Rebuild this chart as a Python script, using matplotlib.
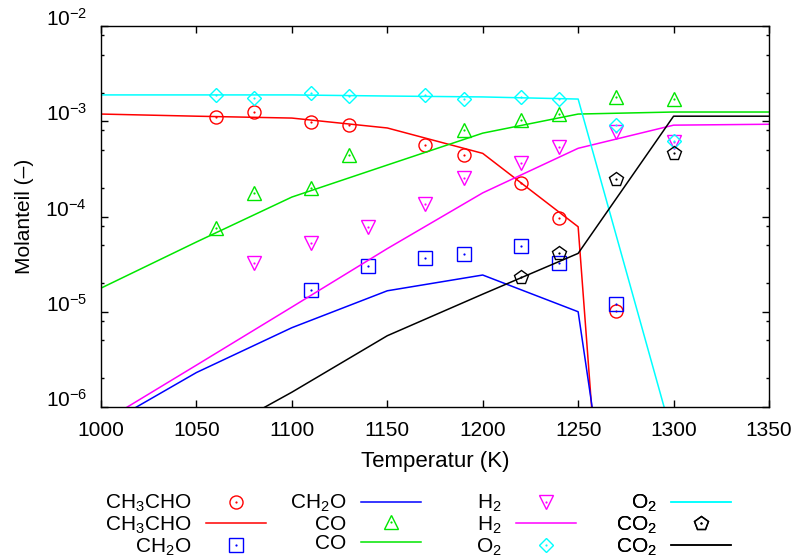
import numpy as np
import matplotlib
matplotlib.use("Agg")
import matplotlib.pyplot as plt
from matplotlib.ticker import LogLocator, NullFormatter

plt.rcParams['font.family'] = ['Liberation Sans', 'DejaVu Sans']
plt.rcParams['mathtext.default'] = 'regular'
plt.rcParams['font.size'] = 15

# model results (lines) on a 50 K grid
T_model = [1000, 1050, 1100, 1150, 1200, 1250, 1300, 1350]
ch3cho_model = [1.19e-3, 1.13e-3, 1.08e-3, 8.5e-4, 4.6e-4, 7.8e-5, 3e-18, 3e-18]
ch2o_model = [6.1e-7, 2.3e-6, 6.8e-6, 1.66e-5, 2.43e-5, 1.0e-5, 1.5e-12, 1.5e-12]
co_model = [1.77e-5, 5.4e-5, 1.6e-4, 3.47e-4, 7.5e-4, 1.19e-3, 1.25e-3, 1.25e-3]
h2_model = [6.8e-7, 2.75e-6, 1.12e-5, 4.6e-5, 1.77e-4, 5.2e-4, 9.1e-4, 9.3e-4]
o2_model = [1.89e-3, 1.89e-3, 1.89e-3, 1.84e-3, 1.80e-3, 1.71e-3, 4.4e-7, 1e-9]
co2_model = [5e-8, 4e-7, 1.43e-6, 5.6e-6, 1.53e-5, 4.1e-5, 1.13e-3, 1.13e-3]

# measurements (symbols)
T_ch3cho = [1060, 1080, 1110, 1130, 1170, 1190, 1220, 1240, 1270]
ch3cho_exp = [1.11e-3, 1.25e-3, 9.8e-4, 9.1e-4, 5.6e-4, 4.4e-4, 2.25e-4, 9.6e-5, 1.02e-5]
T_ch2o = [1110, 1140, 1170, 1190, 1220, 1240, 1270]
ch2o_exp = [1.7e-5, 3.0e-5, 3.67e-5, 4.03e-5, 4.9e-5, 3.24e-5, 1.2e-5]
T_co = [1060, 1080, 1110, 1130, 1190, 1220, 1240, 1270, 1300]
co_exp = [7.6e-5, 1.77e-4, 2.0e-4, 4.4e-4, 8.1e-4, 1.03e-3, 1.19e-3, 1.8e-3, 1.71e-3]
T_h2 = [1080, 1110, 1140, 1170, 1190, 1220, 1240, 1270, 1300]
h2_exp = [3.25e-5, 5.3e-5, 7.8e-5, 1.35e-4, 2.53e-4, 3.65e-4, 5.4e-4, 7.7e-4, 6.05e-4]
T_o2 = [1060, 1080, 1110, 1130, 1170, 1190, 1220, 1240, 1270, 1300]
o2_exp = [1.88e-3, 1.75e-3, 1.99e-3, 1.84e-3, 1.89e-3, 1.71e-3, 1.80e-3, 1.71e-3, 9.1e-4, 6.2e-4]
T_co2 = [1220, 1240, 1270, 1300]
co2_exp = [2.3e-5, 4.1e-5, 2.48e-4, 4.6e-4]

species = [
    # label, color, marker, marker size, T_exp, exp, model
    ('CH$_3$CHO', '#ff0000', 'o', 9.4, T_ch3cho, ch3cho_exp, ch3cho_model),
    ('CH$_2$O', '#0000ff', 's', 9.6, T_ch2o, ch2o_exp, ch2o_model),
    ('CO', '#00e600', '^', 9.4, T_co, co_exp, co_model),
    ('H$_2$', '#ff00ff', 'v', 9.4, T_h2, h2_exp, h2_model),
    ('O$_2$', '#00ffff', 'D', 7.0, T_o2, o2_exp, o2_model),
    ('CO$_2$', '#000000', 'p', 10.0, T_co2, co2_exp, co2_model),
]

fig = plt.figure(figsize=(8, 5.58), dpi=100)
ax = fig.add_axes([101 / 800, 151 / 558, 668 / 800, 381 / 558])

entries = []
for label, color, marker, ms, t_exp, y_exp, y_model in species:
    pts, = ax.plot(t_exp, y_exp, ls='none', marker=marker, ms=ms, mfc='none',
                   mec=color, mew=1.0)
    dot, = ax.plot(t_exp, y_exp, ls='none', marker='o', ms=1.6, mfc=color,
                   mew=0)
    line, = ax.plot(T_model, y_model, color=color, lw=1.1)
    entries.append(((pts, dot), label))
    entries.append((line, label))

ax.set_yscale('log')
ax.set_xlim(1000, 1350)
ax.set_ylim(1e-6, 1e-2)
ax.set_xticks(np.arange(1000, 1351, 50))
ax.set_yticks([1e-6, 1e-5, 1e-4, 1e-3, 1e-2])
ax.yaxis.set_minor_locator(LogLocator(base=10, subs=[2, 5, 8], numticks=10))
ax.yaxis.set_minor_formatter(NullFormatter())
ax.tick_params(which='both', direction='in', top=True, right=True, width=1)
ax.tick_params(which='major', length=5)
ax.tick_params(which='minor', length=2.5)
ax.tick_params(axis='x', pad=10)
ax.tick_params(axis='y', pad=10)
for lab in ax.get_yticklabels():
    lab.set_verticalalignment('baseline')
for s in ax.spines.values():
    s.set_linewidth(1.0)

ax.set_xlabel('Temperatur (K)', fontsize=16, labelpad=8)
ax.set_ylabel('Molanteil (–)', labelpad=8)

# gnuplot style key: 4 columns, label right-aligned in front of the sample
col_right = [266, 421, 576, 731]
for i, x in enumerate(col_right):
    chunk = entries[3 * i:3 * i + 3]
    leg = ax.legend([h for h, _ in chunk], [l for _, l in chunk],
                    loc='upper right', bbox_to_anchor=(x / 800, 1 - 493 / 558),
                    bbox_transform=fig.transFigure, frameon=False,
                    markerfirst=False, handlelength=2.88, handletextpad=0.7,
                    labelspacing=0.02, borderpad=0, borderaxespad=0,
                    numpoints=1)
    ax.add_artist(leg)

fig.savefig('out.png', dpi=100)
